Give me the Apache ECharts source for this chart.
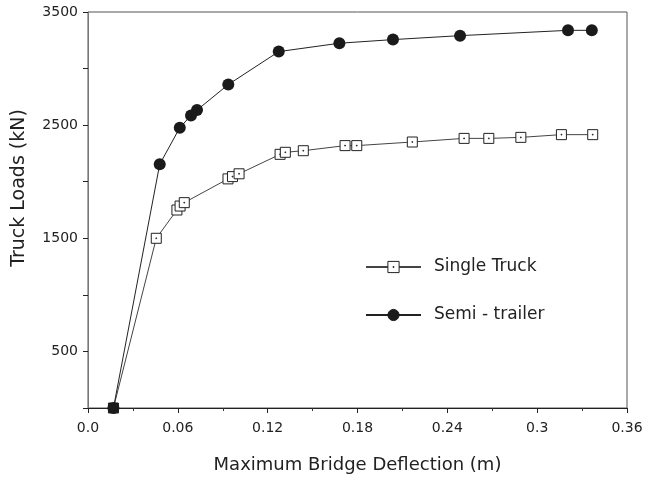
<!DOCTYPE html>
<html>
<head>
<meta charset="utf-8">
<script src="https://cdn.jsdelivr.net/npm/echarts@6/dist/echarts.min.js"></script>
<style>html,body{margin:0;padding:0;background:#fff}#c{width:649px;height:479px}</style>
</head>
<body>
<div id="c"></div>
<script>
var singleX = [0.017, 0.0456, 0.0594, 0.0615, 0.0643, 0.0935, 0.0965, 0.1009, 0.1283, 0.1318, 0.1438, 0.1717, 0.1795, 0.2166, 0.2512, 0.2677, 0.2891, 0.3162, 0.3371];
var singleY = [0, 1500, 1750, 1785, 1815, 2025, 2045, 2070, 2242, 2260, 2274, 2319, 2319, 2351, 2383, 2383, 2392, 2416, 2416];
var semiX = [0.017, 0.0479, 0.0613, 0.0688, 0.0728, 0.0937, 0.1274, 0.1679, 0.2037, 0.2485, 0.3206, 0.3365];
var semiY = [0, 2154, 2477, 2586, 2633, 2859, 3150, 3224, 3256, 3291, 3338, 3338];
var xTickLabels = ['0.0', '0.06', '0.12', '0.18', '0.24', '0.3', '0.36'];
var yTickLabels = ['500', '1500', '2500', '3500'];
var seriesNames = ['Single Truck', 'Semi - trailer'];

function pairs(xs, ys) { return xs.map(function (x, i) { return [x, ys[i]]; }); }

var squareDot = 'path://M0 0H10V10H0Z M4.6 4.6H5.4V5.4H4.6Z';
var FONT = 'DejaVu Sans, Verdana, sans-serif';

var singleData = pairs(singleX, singleY).map(function (p, i) {
  return i === 0 ? { value: p, itemStyle: { color: '#111' } } : p;
});

var chart = echarts.init(document.getElementById('c'), null, { renderer: 'canvas' });
chart.setOption({
  animation: false,
  backgroundColor: '#fff',
  grid: { left: 88, right: 22, top: 12, bottom: 70, show: true, borderColor: '#555', borderWidth: 1 },
  xAxis: {
    type: 'value', min: 0, max: 0.36, interval: 0.06,
    name: 'Maximum Bridge Deflection (m)', nameLocation: 'middle', nameGap: 48,
    nameTextStyle: { fontFamily: FONT, fontSize: 18, color: '#222' },
    axisLine: { show: true, lineStyle: { color: '#222', width: 1 } },
    axisTick: { show: true, length: 5, lineStyle: { color: '#222' } },
    minorTick: { show: true, splitNumber: 2, length: 3, lineStyle: { color: '#333' } },
    axisLabel: { fontFamily: FONT, fontSize: 14, color: '#222', margin: 13,
      formatter: function (v) { var i = Math.round(v / 0.06); return xTickLabels[i] || ''; } },
    splitLine: { show: false }
  },
  yAxis: {
    type: 'value', min: 0, max: 3500, interval: 500,
    axisLine: { show: true, lineStyle: { color: '#777', width: 1 } },
    axisTick: { show: true, length: 5, lineStyle: { color: '#222' } },
    axisLabel: { fontFamily: FONT, fontSize: 14, color: '#222', margin: 10,
      formatter: function (v) { var s = String(v); return yTickLabels.indexOf(s) >= 0 ? s : ''; } },
    splitLine: { show: false }
  },
  legend: {
    orient: 'vertical', left: 360, top: 252,
    data: seriesNames,
    itemWidth: 55, itemHeight: 14, itemGap: 28,
    itemStyle: { borderWidth: 1 },
    textStyle: { fontFamily: FONT, fontSize: 17, color: '#222', padding: [0, 0, 0, 8], lineHeight: 20 }
  },
  graphic: [{
    type: 'text', x: 19, y: 188, rotation: Math.PI / 2,
    style: { text: 'Truck Loads (kN)', font: '19px ' + FONT, fill: '#222', align: 'center', verticalAlign: 'middle' }
  }],
  series: [
    {
      name: seriesNames[0], type: 'line', data: singleData,
      symbol: squareDot, symbolSize: 10,
      itemStyle: { color: '#fff', borderColor: '#222', borderWidth: 1 },
      lineStyle: { color: '#444', width: 1 },
      z: 2
    },
    {
      name: seriesNames[1], type: 'line', data: pairs(semiX, semiY),
      symbol: 'circle', symbolSize: 12,
      itemStyle: { color: '#1a1a1a', borderColor: '#1a1a1a', borderWidth: 0 },
      lineStyle: { color: '#222', width: 1 },
      z: 3
    }
  ]
});
</script>
</body>
</html>
